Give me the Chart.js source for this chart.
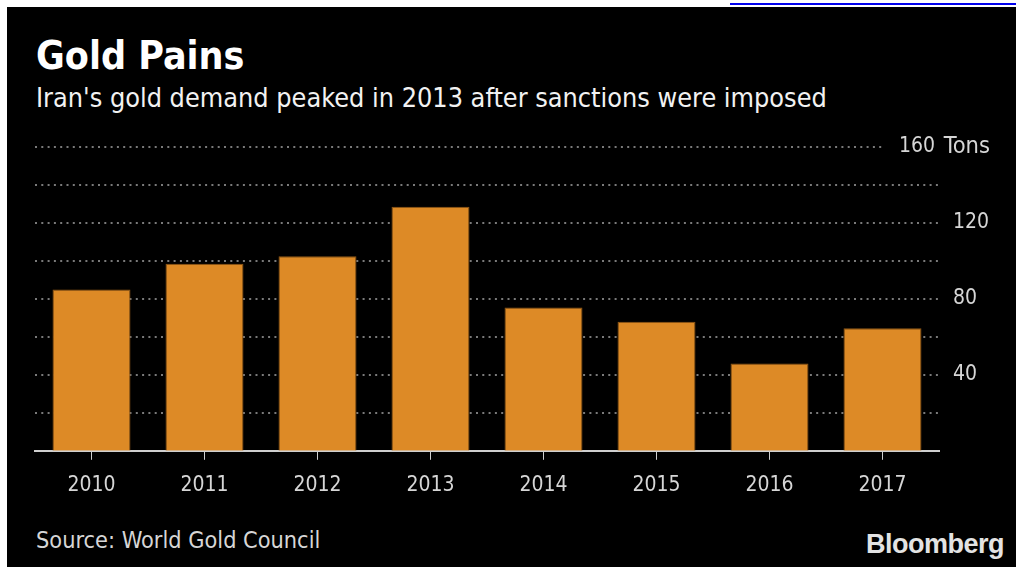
<!DOCTYPE html>
<html>
<head>
<meta charset="utf-8">
<script src="https://cdn.jsdelivr.net/npm/chart.js@4.4.0/dist/chart.umd.min.js"></script>
<style>
  html, body { margin: 0; padding: 0; background: #fff; }
  body { width: 1016px; height: 567px; position: relative; overflow: hidden; }
  #link { position: absolute; left: 730px; top: 3px; width: 286px; height: 2px; background: #0000ee; }
  #panel { position: absolute; left: 7px; top: 7px; width: 1009px; height: 560px; background: #000; }
  .txt { position: absolute; white-space: nowrap; line-height: 1; font-family: "DejaVu Sans Condensed", "DejaVu Sans", sans-serif; }
  #title { left: 36px; top: 36px; font-size: 39px; font-weight: bold; color: #fff; }
  #subtitle { left: 36px; top: 85px; font-size: 26.8px; color: #f2f2f2; }
  #source { left: 36px; top: 528px; font-size: 23.3px; color: #d6d6d6; }
  #logo { left: 866px; top: 531px; font-size: 27px; font-weight: bold; color: #e3e3e3;
          font-family: "Liberation Sans", Arial, sans-serif; letter-spacing: -0.5px; }
  #chart { position: absolute; left: 0; top: 0; }
</style>
</head>
<body>
<div id="link"></div>
<div id="panel"></div>
<div class="txt" id="title">Gold Pains</div>
<div class="txt" id="subtitle">Iran's gold demand peaked in 2013 after sanctions were imposed</div>
<div class="txt" id="source">Source: World Gold Council</div>
<div class="txt" id="logo">Bloomberg</div>
<canvas id="chart" width="1016" height="567"></canvas>
<script>
// dados (toneladas)
const years = ["2010", "2011", "2012", "2013", "2014", "2015", "2016", "2017"];
const demand = [85, 98.5, 102.5, 128.5, 75.5, 68, 46, 64.5];
const gridValues = [20, 40, 60, 80, 100, 120, 140, 160];
const labelValues = [40, 80, 120, 160];
const unit = "Tons";

const font = '"DejaVu Sans Condensed", "DejaVu Sans", sans-serif';

// grade pontilhada e rótulos do eixo y
const yAxisPlugin = {
    id: 'yAxisBloomberg',
    beforeDatasetsDraw(chart) {
        const c = chart.ctx;
        const area = chart.chartArea;
        const y = chart.scales.y;
        c.save();
        c.strokeStyle = '#7a7a7a';
        c.lineWidth = 2;
        c.setLineDash([2, 4.3]);
        gridValues.forEach(v => {
            const py = Math.round(y.getPixelForValue(v));
            const end = v === 160 ? 882 : area.right;
            c.beginPath();
            c.moveTo(area.left, py);
            c.lineTo(end, py);
            c.stroke();
        });
        c.restore();
    },
    afterDraw(chart) {
        const c = chart.ctx;
        const y = chart.scales.y;
        c.save();
        c.fillStyle = '#d6d6d6';
        c.textBaseline = 'middle';
        labelValues.forEach(v => {
            const py = y.getPixelForValue(v);
            if (v === 160) {
                // o rótulo do topo leva a unidade, alinhado à direita
                c.textAlign = 'right';
                c.font = '23.5px ' + font;
                c.fillText(unit, 990, py);
                c.font = '21px ' + font;
                c.fillText(String(v), 935, py);
            } else {
                c.textAlign = 'left';
                c.font = '21px ' + font;
                c.fillText(String(v), 953, py);
            }
        });
        c.restore();
    }
};

const ctx = document.getElementById('chart').getContext('2d');
const chart = new Chart(ctx, {
    type: 'bar',
    data: {
        labels: years,
        datasets: [{
            data: demand,
            backgroundColor: '#dd8a26',
            borderColor: '#8f5716',
            borderWidth: 1,
            categoryPercentage: 1,
            barPercentage: 0.69
        }]
    },
    options: {
        responsive: false,
        animation: false,
        layout: { padding: { left: 35, right: 77, top: 147, bottom: 56 } },
        plugins: {
            legend: { display: false },
            tooltip: { enabled: false }
        },
        scales: {
            x: {
                offset: true,
                grid: {
                    offset: false,
                    drawOnChartArea: false,
                    color: '#cfcfcf',
                    lineWidth: 1,
                    tickLength: 9
                },
                border: { color: '#cfcfcf', width: 2 },
                ticks: {
                    color: '#d6d6d6',
                    font: { family: font, size: 21 },
                    padding: 13,
                    maxRotation: 0
                }
            },
            y: {
                display: false,
                min: 0,
                max: 160
            }
        }
    },
    plugins: [yAxisPlugin]
});
</script>
</body>
</html>
